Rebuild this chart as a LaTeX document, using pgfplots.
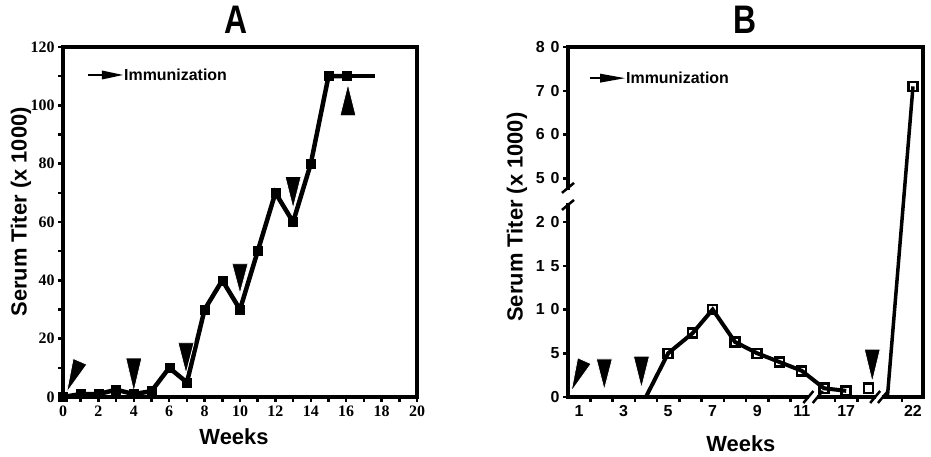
\documentclass[border=0pt]{standalone}
\usepackage{fontspec}
\setmainfont{Liberation Sans}
\newfontfamily\serifbf{Liberation Serif}
\usepackage{pgfplots}
\pgfplotsset{compat=1.18}
\usepackage{pgfplotstable}

% Panel A: week, serum titer (x 1000)
\pgfplotstableread{
week titer
0 0
1 1
2 1
3 2.5
4 1
5 2
6 10
7 5
8 30
9 40
10 30
11 50
12 70
13 60
14 80
15 110
16 110
}\dataA

% Panel B: pos = position on the broken week axis, week, titer (x 1000)
\pgfplotstableread{
pos week titer
5 5 5
6.1 6 7.3
7 7 10
8 8 6.3
9 9 5
10 10 4
11 11 3
12 16 1
13 17 0.7
14 18 1
16 22 71
}\dataB
\pgfplotstableread{
pos titer
4 0
5 5
6.1 7.3
7 10
8 6.3
9 5
10 4
11 3
12 1
13 0.7
}\lineBa
\pgfplotstableread{
pos titer
14.85 0
16 71
}\lineBb

\newcommand{\labfont}{\bfseries\fontsize{22}{24}\selectfont}
\newcommand{\titfont}{\bfseries\fontsize{40}{40}\selectfont}
\newcommand{\legfont}{\bfseries\fontsize{16}{18}\selectfont}
\newcommand{\tri}[3]{\filldraw[black,draw=white,line width=0.8bp] (axis cs:#1,#2) -- ++(-8bp,#3) -- ++(16bp,0bp) -- cycle;}
% broken titer axis of panel B: 0..20 -> 0..4, 50..80 -> 5..8
\newcommand{\ymapB}{\thisrow{titer}>30 ? (\thisrow{titer}-50)/10+5 : \thisrow{titer}/5}

\pgfplotsset{
  panel/.style={
    anchor=south west, scale only axis, height=350bp,
    tick align=outside, major tick length=5bp, minor tick length=5bp,
    tick style={black, line width=2.5bp},
    axis line style={line width=3.5bp},
    xtick pos=lower, ytick pos=left,
    clip=false,
    title style={anchor=center, font=\titfont},
    xlabel style={anchor=center, font=\labfont},
    ylabel style={anchor=center, font=\labfont},
  },
}

\begin{document}
\begin{tikzpicture}
\useasboundingbox (0bp,0bp) rectangle (931bp,457bp);
% ---------------- Panel A ----------------
\begin{axis}[panel,
  at={(63bp,60bp)}, width=354bp,
  xmin=0, xmax=20, ymin=0, ymax=120,
  xtick={0,2,...,20}, minor xtick={1,3,...,19},
  ytick={0,20,...,120}, minor ytick={10,30,...,110},
  ticklabel style={font=\serifbf\bfseries\fontsize{16}{16}\selectfont},
  /pgf/number format/assume math mode=true,
  title={\scalebox{0.8}[1]{A}}, title style={at={(axis description cs:0.49,1.06)}},
  xlabel={Weeks}, xlabel style={at={(axis description cs:0.483,-0.114)}},
  ylabel={Serum Titer (x 1000)}, ylabel style={at={(axis description cs:-0.119,0.529)}},
]
\addplot[black, line width=4.5bp] table[x=week, y=titer] {\dataA};
\addplot[black, line width=4.5bp] coordinates {(16,110) (17.6,110)};
\addplot[only marks, mark=square*, mark size=4.5bp, black] table[x=week, y=titer] {\dataA};
% immunization arrows
\filldraw[black,draw=white,line width=0.8bp] (axis cs:0.2,1.5) -- ++(20.4bp,28.2bp) -- ++(-13.8bp,6bp) -- cycle;
\tri{4}{1.7}{34bp}
\tri{6.95}{8}{31bp}
\tri{10}{35.4}{30bp}
\tri{13}{64.6}{32bp}
\tri{16.1}{107.4}{-32bp}
% legend
\draw[line width=1.8bp] (axis description cs:0.0706,0.92) -- ++(15bp,0bp);
\fill (axis description cs:0.0706,0.92) ++(14bp,4.5bp) -- ++(21bp,-4.5bp) -- ++(-21bp,-4.5bp) -- cycle;
\node[anchor=west, inner sep=0pt, font=\legfont] at ([xshift=36bp]axis description cs:0.0706,0.92) {Immunization};
\end{axis}
% ---------------- Panel B ----------------
\begin{axis}[panel,
  at={(568bp,60bp)}, width=355bp,
  xmin=0.5, xmax=16.45, ymin=0, ymax=8,
  xtick={1,3,5,7,9,11,13,16},
  xticklabels={1,3,5,7,9,11,17,22},
  major x tick style={draw=none},
  minor xtick={1.5,2.5,...,10.5,12.5,13.5,15.5},
  ytick={0,1,...,8},
  yticklabels={0,5,{1\hspace{6bp}0},{1\hspace{6bp}5},{2\hspace{6bp}0},{5\hspace{6bp}0},{6\hspace{6bp}0},{7\hspace{6bp}0},{8\hspace{6bp}0}},
  ticklabel style={font=\bfseries\fontsize{16}{16}\selectfont},
  title={\scalebox{0.8}[1]{B}}, title style={at={(axis description cs:0.50,1.06)}},
  xlabel={Weeks}, xlabel style={at={(axis description cs:0.487,-0.134)}},
  ylabel={Serum Titer (x 1000)}, ylabel style={at={(axis description cs:-0.144,0.514)}},
]
\addplot[black, line width=4bp] table[x=pos, y expr={\ymapB}] {\lineBa};
\addplot[black, line width=3.5bp] table[x=pos, y expr={\ymapB}] {\lineBb};
\addplot[only marks, mark=square, mark size=4.5bp, mark options={fill=white, line width=2.5bp}, black] table[x=pos, y expr={\ymapB}] {\dataB};
% axis breaks
\fill[white] (axis cs:0.5,4.44) ++(-4bp,0bp) rectangle ++(8bp,13bp);
\draw[line width=2.5bp] (axis cs:0.5,4.78) ++(-6bp,-5bp) -- ++(12bp,10bp);
\draw[line width=2.5bp] (axis cs:0.5,4.39) ++(-6bp,-5bp) -- ++(12bp,10bp);
\fill[white] (axis cs:11.32,0) ++(0bp,-4bp) rectangle ++(8bp,8bp);
\draw[line width=2.5bp] (axis cs:11.3,0) ++(-5bp,-6bp) -- ++(10bp,12bp);
\draw[line width=2.5bp] (axis cs:11.72,0) ++(-5bp,-6bp) -- ++(10bp,12bp);
\fill[white] (axis cs:14.33,0) ++(0bp,-4bp) rectangle ++(6bp,8bp);
\draw[line width=2.5bp] (axis cs:14.3,0) ++(-5bp,-6bp) -- ++(10bp,12bp);
\draw[line width=2.5bp] (axis cs:14.65,0) ++(-5bp,-6bp) -- ++(10bp,12bp);
% immunization arrows
\filldraw[black,draw=white,line width=0.8bp] (axis cs:0.64,0.12) -- ++(20bp,28bp) -- ++(-13.5bp,6bp) -- cycle;
\tri{2.13}{0.16}{31bp}
\tri{3.8}{0.2}{32bp}
\tri{14.17}{0.34}{33bp}
% legend
\draw[line width=1.8bp] (axis description cs:0.062,0.911) -- ++(12bp,0bp);
\fill (axis description cs:0.062,0.911) ++(10bp,4.5bp) -- ++(25bp,-4.5bp) -- ++(-25bp,-4.5bp) -- cycle;
\node[anchor=west, inner sep=0pt, font=\legfont] at ([xshift=36bp]axis description cs:0.062,0.911) {Immunization};
\end{axis}
\end{tikzpicture}
\end{document}
